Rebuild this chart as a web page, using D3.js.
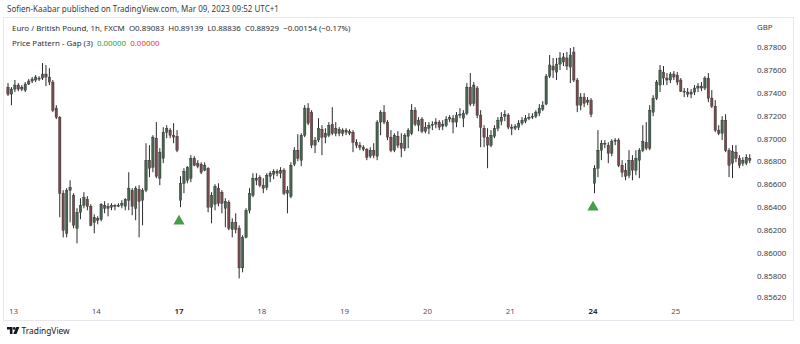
<!DOCTYPE html>
<html>
<head>
<meta charset="utf-8">
<script src="https://cdn.jsdelivr.net/npm/d3@7"></script>
<style>
  html, body { margin: 0; padding: 0; background: #ffffff; }
  svg { display: block; font-family: "Noto Sans", "Open Sans", sans-serif; }
</style>
</head>
<body>
<svg id="chart" width="800" height="344"></svg>
<script>
// EUR/GBP hourly candles (FXCM), one entry per bar
const opens = [
  0.87450,0.87389,0.87433,0.87468,0.87433,0.87424,0.87477,0.87503,0.87512,0.87529,
  0.87529,0.87564,0.87538,0.87494,0.87267,0.87188,0.86525,0.86175,0.86551,0.86508,
  0.86219,0.86359,0.86420,0.86473,0.86411,0.86271,0.86306,0.86298,0.86420,0.86394,
  0.86403,0.86420,0.86411,0.86420,0.86411,0.86464,0.86551,0.86394,0.86560,0.86464,
  0.86551,0.86813,0.86752,0.87005,0.86656,0.86830,0.87057,0.87075,0.87031,0.87022,
  0.86464,0.86612,0.86638,0.86656,0.86830,0.86787,0.86778,0.86726,0.86743,0.86403,
  0.86429,0.86569,0.86534,0.86394,0.86446,0.86210,0.86271,0.86219,0.85874,0.86140,
  0.86376,0.86508,0.86656,0.86665,0.86595,0.86577,0.86673,0.86691,0.86717,0.86699,
  0.86726,0.86525,0.86499,0.86778,0.86900,0.86813,0.87031,0.87267,0.87232,0.86944,
  0.86988,0.87083,0.87014,0.87031,0.87127,0.87048,0.87083,0.87048,0.87075,0.87066,
  0.87057,0.86970,0.86944,0.86926,0.86909,0.86848,0.86900,0.86848,0.87145,0.87232,
  0.87145,0.87014,0.86900,0.87022,0.86961,0.86918,0.87022,0.87048,0.87249,0.87118,
  0.87171,0.87066,0.87092,0.87118,0.87127,0.87145,0.87110,0.87118,0.87171,0.87179,
  0.87145,0.87206,0.87179,0.87223,0.87450,0.87310,0.87442,0.87206,0.87092,0.87014,
  0.86944,0.87022,0.87092,0.87153,0.87197,0.87206,0.87101,0.87092,0.87101,0.87136,
  0.87153,0.87179,0.87188,0.87197,0.87223,0.87258,0.87302,0.87546,0.87634,0.87581,
  0.87651,0.87669,0.87704,0.87625,0.87756,0.87512,0.87293,0.87363,0.87319,0.87337,
  0.86612,0.86743,0.86900,0.86961,0.86944,0.86874,0.86979,0.86988,0.86769,0.86726,
  0.86682,0.86813,0.86726,0.86813,0.86900,0.86970,0.86918,0.87232,0.87354,0.87468,
  0.87581,0.87529,0.87512,0.87564,0.87555,0.87512,0.87415,0.87407,0.87389,0.87407,
  0.87442,0.87459,0.87442,0.87529,0.87354,0.87284,0.87075,0.87048,0.87162,0.86900,
  0.86787,0.86883,0.86830,0.86787,0.86787,0.86830
];
const highs = [
  0.87485,0.87450,0.87512,0.87485,0.87468,0.87494,0.87520,0.87538,0.87555,0.87546,
  0.87660,0.87643,0.87616,0.87512,0.87293,0.87197,0.86551,0.86569,0.86638,0.86525,
  0.86394,0.86481,0.86534,0.86499,0.86429,0.86341,0.86324,0.86438,0.86455,0.86438,
  0.86438,0.86429,0.86438,0.86464,0.86481,0.86708,0.86569,0.86586,0.86595,0.86569,
  0.86961,0.86944,0.87031,0.87145,0.86918,0.87101,0.87118,0.87092,0.87136,0.87075,
  0.86673,0.86743,0.86761,0.86857,0.86848,0.86813,0.86795,0.86795,0.86752,0.86534,
  0.86603,0.86612,0.86551,0.86481,0.86464,0.86306,0.86350,0.86245,0.86158,0.86394,
  0.86569,0.86699,0.86699,0.86682,0.86656,0.86699,0.86717,0.86734,0.86734,0.86752,
  0.86743,0.86586,0.86795,0.86926,0.87040,0.87048,0.87293,0.87310,0.87249,0.87014,
  0.87179,0.87118,0.87092,0.87145,0.87275,0.87145,0.87101,0.87092,0.87092,0.87083,
  0.87075,0.86996,0.86970,0.86944,0.86918,0.86926,0.86961,0.87162,0.87249,0.87293,
  0.87162,0.87075,0.87048,0.87066,0.87048,0.87048,0.87092,0.87302,0.87275,0.87188,
  0.87188,0.87145,0.87145,0.87153,0.87179,0.87162,0.87162,0.87197,0.87206,0.87206,
  0.87232,0.87267,0.87249,0.87485,0.87573,0.87494,0.87459,0.87249,0.87118,0.87092,
  0.87075,0.87118,0.87188,0.87232,0.87249,0.87223,0.87127,0.87127,0.87162,0.87188,
  0.87206,0.87223,0.87223,0.87249,0.87302,0.87328,0.87564,0.87730,0.87704,0.87704,
  0.87756,0.87748,0.87756,0.87791,0.87800,0.87529,0.87398,0.87398,0.87363,0.87354,
  0.86769,0.87075,0.86988,0.86988,0.86970,0.86996,0.87005,0.87005,0.86813,0.86787,
  0.86900,0.86857,0.86900,0.86918,0.87118,0.87145,0.87293,0.87380,0.87512,0.87643,
  0.87634,0.87573,0.87581,0.87590,0.87581,0.87529,0.87442,0.87442,0.87433,0.87468,
  0.87485,0.87494,0.87546,0.87573,0.87424,0.87337,0.87118,0.87197,0.87214,0.86918,
  0.86944,0.86944,0.86857,0.86839,0.86865,0.86865
];
const lows = [
  0.87372,0.87293,0.87407,0.87415,0.87415,0.87407,0.87468,0.87485,0.87494,0.87503,
  0.87512,0.87459,0.87468,0.87232,0.87171,0.86315,0.86140,0.86140,0.86271,0.86219,
  0.86088,0.86298,0.86394,0.86376,0.86237,0.86175,0.86254,0.86280,0.86350,0.86324,
  0.86376,0.86376,0.86403,0.86394,0.86376,0.86376,0.86333,0.86289,0.86140,0.86245,
  0.86534,0.86665,0.86708,0.86656,0.86595,0.86787,0.87005,0.87005,0.86961,0.86883,
  0.86403,0.86525,0.86612,0.86621,0.86761,0.86743,0.86691,0.86717,0.86359,0.86263,
  0.86376,0.86411,0.86350,0.86228,0.86202,0.86140,0.86175,0.85782,0.85835,0.86132,
  0.86350,0.86490,0.86595,0.86577,0.86525,0.86551,0.86621,0.86647,0.86673,0.86656,
  0.86508,0.86350,0.86481,0.86761,0.86804,0.86761,0.87014,0.87118,0.86918,0.86874,
  0.86970,0.86857,0.86961,0.87014,0.87031,0.87022,0.87022,0.87022,0.87031,0.87031,
  0.86883,0.86918,0.86900,0.86892,0.86813,0.86830,0.86830,0.86813,0.87031,0.87127,
  0.86988,0.86883,0.86883,0.86918,0.86839,0.86892,0.86918,0.87031,0.87110,0.87066,
  0.87048,0.87048,0.87040,0.87075,0.87092,0.87075,0.87075,0.87101,0.87145,0.87048,
  0.87101,0.87179,0.87101,0.87206,0.87284,0.87284,0.87179,0.86926,0.86926,0.86743,
  0.86926,0.87005,0.87066,0.87118,0.87153,0.87083,0.87031,0.87075,0.87075,0.87118,
  0.87136,0.87162,0.87171,0.87179,0.87197,0.87241,0.87293,0.87529,0.87529,0.87512,
  0.87599,0.87634,0.87599,0.87485,0.87494,0.87232,0.87249,0.87275,0.87293,0.87188,
  0.86525,0.86665,0.86813,0.86918,0.86787,0.86848,0.86944,0.86752,0.86665,0.86638,
  0.86656,0.86638,0.86682,0.86656,0.86883,0.86900,0.86900,0.87197,0.87337,0.87407,
  0.87468,0.87468,0.87485,0.87512,0.87468,0.87407,0.87363,0.87363,0.87354,0.87380,
  0.87407,0.87415,0.87424,0.87319,0.87267,0.87057,0.87031,0.86988,0.86883,0.86665,
  0.86656,0.86795,0.86743,0.86761,0.86769,0.86787
];
const closes = [
  0.87389,0.87433,0.87468,0.87433,0.87450,0.87477,0.87503,0.87520,0.87538,0.87520,
  0.87564,0.87538,0.87494,0.87249,0.87188,0.86525,0.86202,0.86551,0.86577,0.86245,
  0.86359,0.86420,0.86490,0.86411,0.86245,0.86315,0.86289,0.86429,0.86394,0.86411,
  0.86420,0.86411,0.86420,0.86438,0.86473,0.86569,0.86411,0.86569,0.86455,0.86551,
  0.86813,0.86743,0.87014,0.86673,0.86883,0.87057,0.87092,0.87031,0.87014,0.86900,
  0.86612,0.86717,0.86752,0.86830,0.86769,0.86761,0.86708,0.86769,0.86403,0.86508,
  0.86586,0.86438,0.86438,0.86455,0.86219,0.86271,0.86210,0.85874,0.86140,0.86376,
  0.86525,0.86656,0.86638,0.86595,0.86569,0.86682,0.86699,0.86717,0.86699,0.86726,
  0.86525,0.86551,0.86769,0.86900,0.86830,0.87031,0.87267,0.87136,0.86944,0.86988,
  0.87092,0.87014,0.87048,0.87118,0.87048,0.87092,0.87048,0.87075,0.87057,0.87048,
  0.86970,0.86944,0.86926,0.86909,0.86839,0.86900,0.86857,0.87145,0.87232,0.87145,
  0.87014,0.86900,0.87031,0.86944,0.86918,0.87031,0.87075,0.87249,0.87127,0.87162,
  0.87066,0.87101,0.87118,0.87127,0.87145,0.87101,0.87127,0.87171,0.87188,0.87145,
  0.87206,0.87214,0.87223,0.87450,0.87302,0.87468,0.87206,0.87101,0.87014,0.86944,
  0.87031,0.87092,0.87162,0.87188,0.87214,0.87101,0.87092,0.87110,0.87136,0.87162,
  0.87179,0.87188,0.87197,0.87232,0.87267,0.87293,0.87546,0.87643,0.87599,0.87651,
  0.87704,0.87713,0.87634,0.87730,0.87512,0.87293,0.87363,0.87310,0.87337,0.87214,
  0.86743,0.86900,0.86961,0.86953,0.86874,0.86979,0.86988,0.86769,0.86708,0.86673,
  0.86813,0.86726,0.86830,0.86900,0.86979,0.86918,0.87249,0.87354,0.87494,0.87599,
  0.87529,0.87512,0.87564,0.87538,0.87494,0.87415,0.87407,0.87389,0.87407,0.87442,
  0.87459,0.87442,0.87529,0.87354,0.87284,0.87075,0.87048,0.87162,0.86900,0.86769,
  0.86892,0.86830,0.86769,0.86813,0.86839,0.86813
];

// Day labels and the bar on which each day begins
const dayLabels = ['13', '14', '17', '18', '19', '20', '21', '24', '25'];
const dayStartBars = [2, 26, 50, 74, 98, 122, 146, 170, 194];
const weekStartDays = ['17', '24'];

// Price scale ticks
const priceTicks = [0.878, 0.876, 0.874, 0.872, 0.870, 0.868, 0.866, 0.864, 0.862, 0.860, 0.858, 0.8562];

// Bars flagged by the "Price Pattern - Gap (3)" study
const gapBars = [50, 170];

const bars = opens.map((o, i) => ({ i, o, h: highs[i], l: lows[i], c: closes[i] }));

const svg = d3.select('#chart');
const W = 800, H = 344;
const fs = 7.9;

svg.append('rect').attr('width', W).attr('height', H).attr('fill', '#ffffff');

// Header line above the framed chart
svg.append('text')
  .attr('x', 7).attr('y', 12)
  .attr('font-size', 8.0).attr('fill', '#3a3d45')
  .text('Sofien-Kaabar published on TradingView.com, Mar 09, 2023 09:52 UTC+1');

// Frame around the chart
svg.append('rect')
  .attr('x', 3.5).attr('y', 17.5).attr('width', 790).attr('height', 303)
  .attr('fill', 'none').attr('stroke', '#e6e8ee').attr('stroke-width', 1);

const x = d3.scaleLinear().domain([0, bars.length - 1]).range([8, 8 + 3.45 * (bars.length - 1)]);
const y = d3.scaleLinear().domain([0.8562, 0.878]).range([297, 47]);

const upColor = '#46654d';
const downColor = '#774a4c';
const wickColor = '#2b2b2f';
const bodyW = 2.4;

const candles = svg.append('g').attr('class', 'candles');
const g = candles.selectAll('g').data(bars).join('g');

g.append('line')
  .attr('x1', d => x(d.i)).attr('x2', d => x(d.i))
  .attr('y1', d => y(d.h)).attr('y2', d => y(d.l))
  .attr('stroke', wickColor).attr('stroke-width', 1);

g.append('rect')
  .attr('x', d => x(d.i) - bodyW / 2)
  .attr('width', bodyW)
  .attr('y', d => y(Math.max(d.o, d.c)))
  .attr('height', d => Math.max(0.8, Math.abs(y(d.o) - y(d.c))))
  .attr('fill', d => d.c >= d.o ? upColor : downColor)
  .attr('stroke', wickColor).attr('stroke-width', 0.4);

// Gap markers under the flagged bars
const tri = d3.symbol().type(d3.symbolTriangle).size(55);
svg.append('g').selectAll('path')
  .data(gapBars)
  .join('path')
  .attr('d', tri)
  .attr('transform', i => `translate(${x(i) - 1.5},${y(lows[i]) + 14})`)
  .attr('fill', '#43a047');

// Right price axis
const yAxis = svg.append('g');
yAxis.selectAll('text')
  .data(priceTicks)
  .join('text')
  .attr('x', 757)
  .attr('y', d => y(d))
  .attr('dy', '0.35em')
  .attr('font-size', fs)
  .attr('fill', '#3a3d45')
  .text(d => d3.format('.5f')(d));

svg.append('text')
  .attr('x', 757).attr('y', 30)
  .attr('font-size', fs).attr('fill', '#3a3d45')
  .text('GBP');

// Bottom time axis
const xAxis = svg.append('g');
xAxis.selectAll('text')
  .data(dayLabels)
  .join('text')
  .attr('x', (d, k) => x(dayStartBars[k]) - 1.5)
  .attr('y', 314)
  .attr('text-anchor', 'middle')
  .attr('font-size', fs)
  .attr('fill', d => weekStartDays.includes(d) ? '#131722' : '#50535e')
  .attr('font-weight', d => weekStartDays.includes(d) ? 600 : 400)
  .text(d => d);

// Legend lines in the top-left corner
svg.append('text')
  .attr('x', 12).attr('y', 31)
  .attr('font-size', fs).attr('fill', '#2a2e39')
  .attr('xml:space', 'preserve')
  .text('Euro / British Pound, 1h, FXCM  O0.89083  H0.89139  L0.88836  C0.88929  \u22120.00154 (\u22120.17%)');

const studyLine = svg.append('text')
  .attr('x', 12).attr('y', 46)
  .attr('font-size', fs)
  .attr('xml:space', 'preserve');
studyLine.append('tspan').attr('fill', '#2a2e39').text('Price Pattern - Gap (3)  ');
studyLine.append('tspan').attr('fill', '#26a042').text('0.00000  ');
studyLine.append('tspan').attr('fill', '#e53935').text('0.00000');

// TradingView mark and wordmark
const logo = svg.append('g').attr('fill', '#131722');
logo.append('path').attr('d', 'M7 327h5.5v7h-2.6v-4.6H7z');
logo.append('circle').attr('cx', 14.2).attr('cy', 328.4).attr('r', 1.35);
logo.append('path').attr('d', 'M16.2 327h3.2l-2.9 7h-3.2z');
svg.append('text')
  .attr('x', 21.5).attr('y', 334)
  .attr('font-size', 8.4).attr('fill', '#131722')
  .text('TradingView');
</script>
</body>
</html>
